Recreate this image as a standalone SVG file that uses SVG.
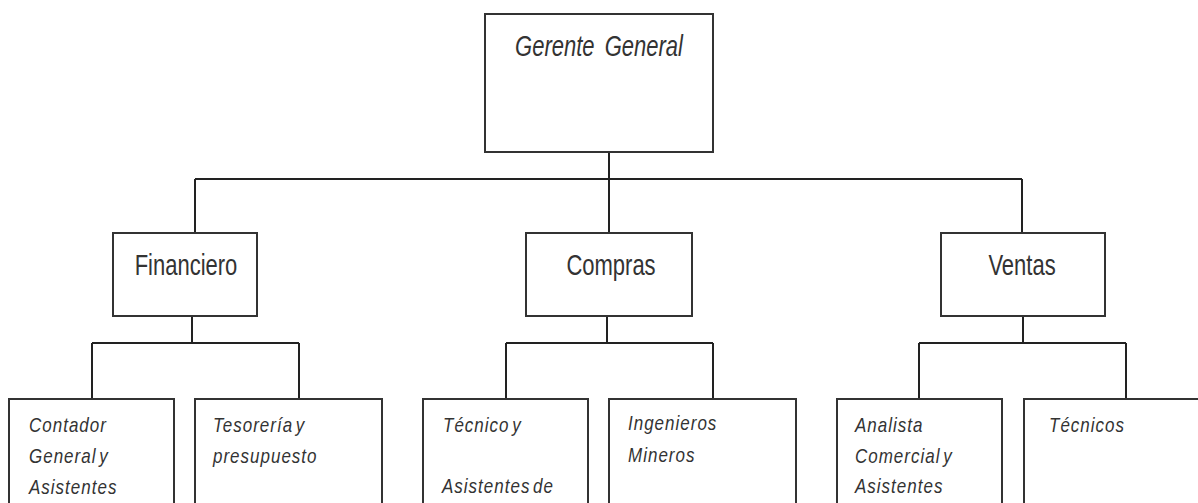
<svg xmlns="http://www.w3.org/2000/svg" width="1198" height="503" viewBox="0 0 1198 503">
<style>
.box{fill:#fff;stroke:#333;stroke-width:2}
.con{fill:none;stroke:#222;stroke-width:2}
.t{font-family:"Liberation Sans",Arial,sans-serif;font-size:22px;fill:#333;text-anchor:middle}
.ti{font-style:italic}
.c{font-family:"Liberation Sans",Arial,sans-serif;font-size:17px;font-style:italic;fill:#333;letter-spacing:1px;word-spacing:-3px}
</style>
<rect width="1198" height="503" fill="#fff"/>
<g id="connectors">
<path class="con" d="M609 152V179M195 179H1022M195 179V233M609 179V233M1022 179V233"/>
<path class="con" d="M192 316V343M92 343H299M92 343V399M299 343V399"/>
<path class="con" d="M607 316V343M506 343H713M506 343V399M713 343V399"/>
<path class="con" d="M1023 316V343M919 343H1126M919 343V399M1126 343V399"/>
</g>
<g id="gerente">
<rect class="box" x="485" y="14" width="228" height="138"/>
<text class="t ti" transform="translate(599,56) scale(1,1.3)" word-spacing="4">Gerente General</text>
</g>
<g id="financiero">
<rect class="box" x="113" y="233" width="144" height="83"/>
<text class="t" transform="translate(186,275) scale(1,1.3)">Financiero</text>
</g>
<g id="compras">
<rect class="box" x="526" y="233" width="166" height="83"/>
<text class="t" transform="translate(611,275) scale(1,1.3)">Compras</text>
</g>
<g id="ventas">
<rect class="box" x="941" y="233" width="164" height="83"/>
<text class="t" transform="translate(1022,275) scale(1,1.3)">Ventas</text>
</g>
<g id="contador">
<rect class="box" x="9" y="399" width="165" height="130"/>
<text class="c" transform="translate(29,432) scale(1,1.2)">Contador</text>
<text class="c" transform="translate(29,463) scale(1,1.2)">General y</text>
<text class="c" transform="translate(29,494) scale(1,1.2)">Asistentes</text>
</g>
<g id="tesoreria">
<rect class="box" x="195" y="399" width="187" height="130"/>
<text class="c" transform="translate(213,432) scale(1,1.2)">Tesorería y</text>
<text class="c" transform="translate(213,463) scale(1,1.2)">presupuesto</text>
</g>
<g id="tecnico">
<rect class="box" x="423" y="399" width="165" height="130"/>
<text class="c" transform="translate(443,432) scale(1,1.2)">Técnico y</text>
<text class="c" transform="translate(442,493) scale(1,1.2)">Asistentes de</text>
</g>
<g id="ingenieros">
<rect class="box" x="609" y="399" width="187" height="130"/>
<text class="c" transform="translate(628,430) scale(1,1.2)">Ingenieros</text>
<text class="c" transform="translate(628,462) scale(1,1.2)">Mineros</text>
</g>
<g id="analista">
<rect class="box" x="837" y="399" width="165" height="130"/>
<text class="c" transform="translate(855,432) scale(1,1.2)">Analista</text>
<text class="c" transform="translate(855,463) scale(1,1.2)">Comercial y</text>
<text class="c" transform="translate(855,493) scale(1,1.2)">Asistentes</text>
</g>
<g id="tecnicos">
<rect class="box" x="1024" y="399" width="190" height="130"/>
<text class="c" transform="translate(1049,432) scale(1,1.2)">Técnicos</text>
</g>
</svg>
